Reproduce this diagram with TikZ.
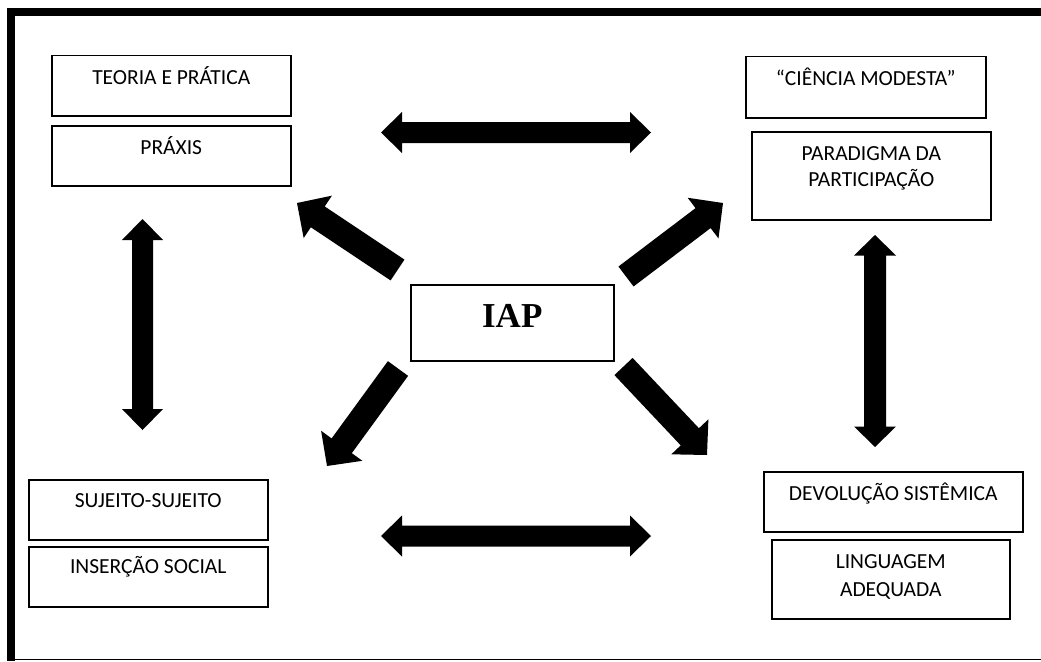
\documentclass[tikz,border=0pt]{standalone}
\usepackage{fontspec}
\setmainfont{Carlito}
\newfontfamily\iapfont{Liberation Serif}
\usetikzlibrary{calc}
\newcommand\fatarrow[5]{% tail, tip, shaft half, head half, head length
  \coordinate (tmpC) at ($(#2)!#5!(#1)$);
  \fill[black] ($(#1)!#3!90:(#2)$) -- ($(tmpC)!#3!90:(#2)$) -- ($(tmpC)!#4!90:(#2)$) -- (#2)
    -- ($(tmpC)!#4!-90:(#2)$) -- ($(tmpC)!#3!-90:(#2)$) -- ($(#1)!#3!-90:(#2)$) -- cycle;}
\newcommand\fatdouble[5]{% tip A, tip B, shaft half, head half, head length
  \coordinate (tmpA) at ($(#1)!#5!(#2)$);
  \coordinate (tmpB) at ($(#2)!#5!(#1)$);
  \fill[black] (#1) -- ($(tmpA)!#4!90:(#2)$) -- ($(tmpA)!#3!90:(#2)$) -- ($(tmpB)!#3!90:(#2)$)
    -- ($(tmpB)!#4!90:(#2)$) -- (#2) -- ($(tmpB)!#4!-90:(#2)$) -- ($(tmpB)!#3!-90:(#2)$)
    -- ($(tmpA)!#3!-90:(#2)$) -- ($(tmpA)!#4!-90:(#2)$) -- cycle;}
\tikzset{
  txtbox/.style={draw=black, line width=1.5pt, inner sep=0pt, anchor=north west,
    align=center, font=\fontsize{21.5}{26}\selectfont, text height=29pt},
}
\begin{document}
\begin{tikzpicture}[x=1pt,y=-1pt]
\useasboundingbox (0,0) rectangle (1041,661);
\fill[white] (0,0) rectangle (1041,661);
% frame
\fill[black] (7,8) rectangle (15,661);
\fill[black] (7,8) rectangle (1041,16);
\draw[line width=1.5pt] (7,659.5) -- (1041,659.5);
% boxes
\node[txtbox, minimum width=239pt, minimum height=60pt, text depth=31pt] (teoria) at (51,55) {TEORIA E PRÁTICA};
\node[txtbox, minimum width=239pt, minimum height=60pt, text depth=31pt] (praxis) at (51,125) {PRÁXIS};
\node[txtbox, minimum width=240pt, minimum height=61pt, text depth=32pt] (ciencia) at (745,56) {“CIÊNCIA MODESTA”};
\node[txtbox, minimum width=239pt, minimum height=88pt, text height=55pt, text depth=33pt] (paradigma) at (751,131) {PARADIGMA DA\\PARTICIPAÇÃO};
\node[txtbox, minimum width=239pt, minimum height=60pt, text height=28pt, text depth=32pt] (sujeito) at (28,479) {SUJEITO-SUJEITO};
\node[txtbox, minimum width=239pt, minimum height=60pt, text height=27pt, text depth=33pt] (insercao) at (28,546) {INSERÇÃO SOCIAL};
\node[txtbox, minimum width=259pt, minimum height=60pt, text depth=31pt] (devolucao) at (763,471) {DEVOLUÇÃO SISTÊMICA};
\node[txtbox, minimum width=238pt, minimum height=79pt, text height=57pt, text depth=22pt, font=\fontsize{21.5}{28}\selectfont] (linguagem) at (771,539) {LINGUAGEM\\ADEQUADA};
\node[txtbox, minimum width=203pt, minimum height=76pt, text height=43pt, text depth=33pt, font=\iapfont\bfseries\fontsize{35}{40}\selectfont] (iap) at (410,284) {IAP};
% arrow end points
\coordinate (ulT) at (397.5,270);  \coordinate (ulH) at (297,203);
\coordinate (urT) at (626,276.5);  \coordinate (urH) at (723,203);
\coordinate (llT) at (398,368.5);  \coordinate (llH) at (327,466);
\coordinate (lrT) at (623.5,366.5); \coordinate (lrH) at (707,455);
\coordinate (topA) at (381,132.5); \coordinate (topB) at (651,132.5);
\coordinate (botA) at (381,536);   \coordinate (botB) at (651,536);
\coordinate (lvA) at (142.5,219);  \coordinate (lvB) at (142.5,430);
\coordinate (rvA) at (875,235);    \coordinate (rvB) at (875,447);
% arrows
\fatarrow{ulT}{ulH}{12.5pt}{25.5pt}{25pt}
\fatarrow{urT}{urH}{12.5pt}{25.5pt}{25pt}
\fatarrow{llT}{llH}{12.5pt}{25.5pt}{25pt}
\fatarrow{lrT}{lrH}{12.5pt}{25.5pt}{25pt}
\fatdouble{topA}{topB}{10.5pt}{20.5pt}{21pt}
\fatdouble{botA}{botB}{10.5pt}{20.5pt}{21pt}
\fatdouble{lvA}{lvB}{10.5pt}{20.5pt}{21pt}
\fatdouble{rvA}{rvB}{11pt}{21pt}{20.5pt}
\end{tikzpicture}
\end{document}
